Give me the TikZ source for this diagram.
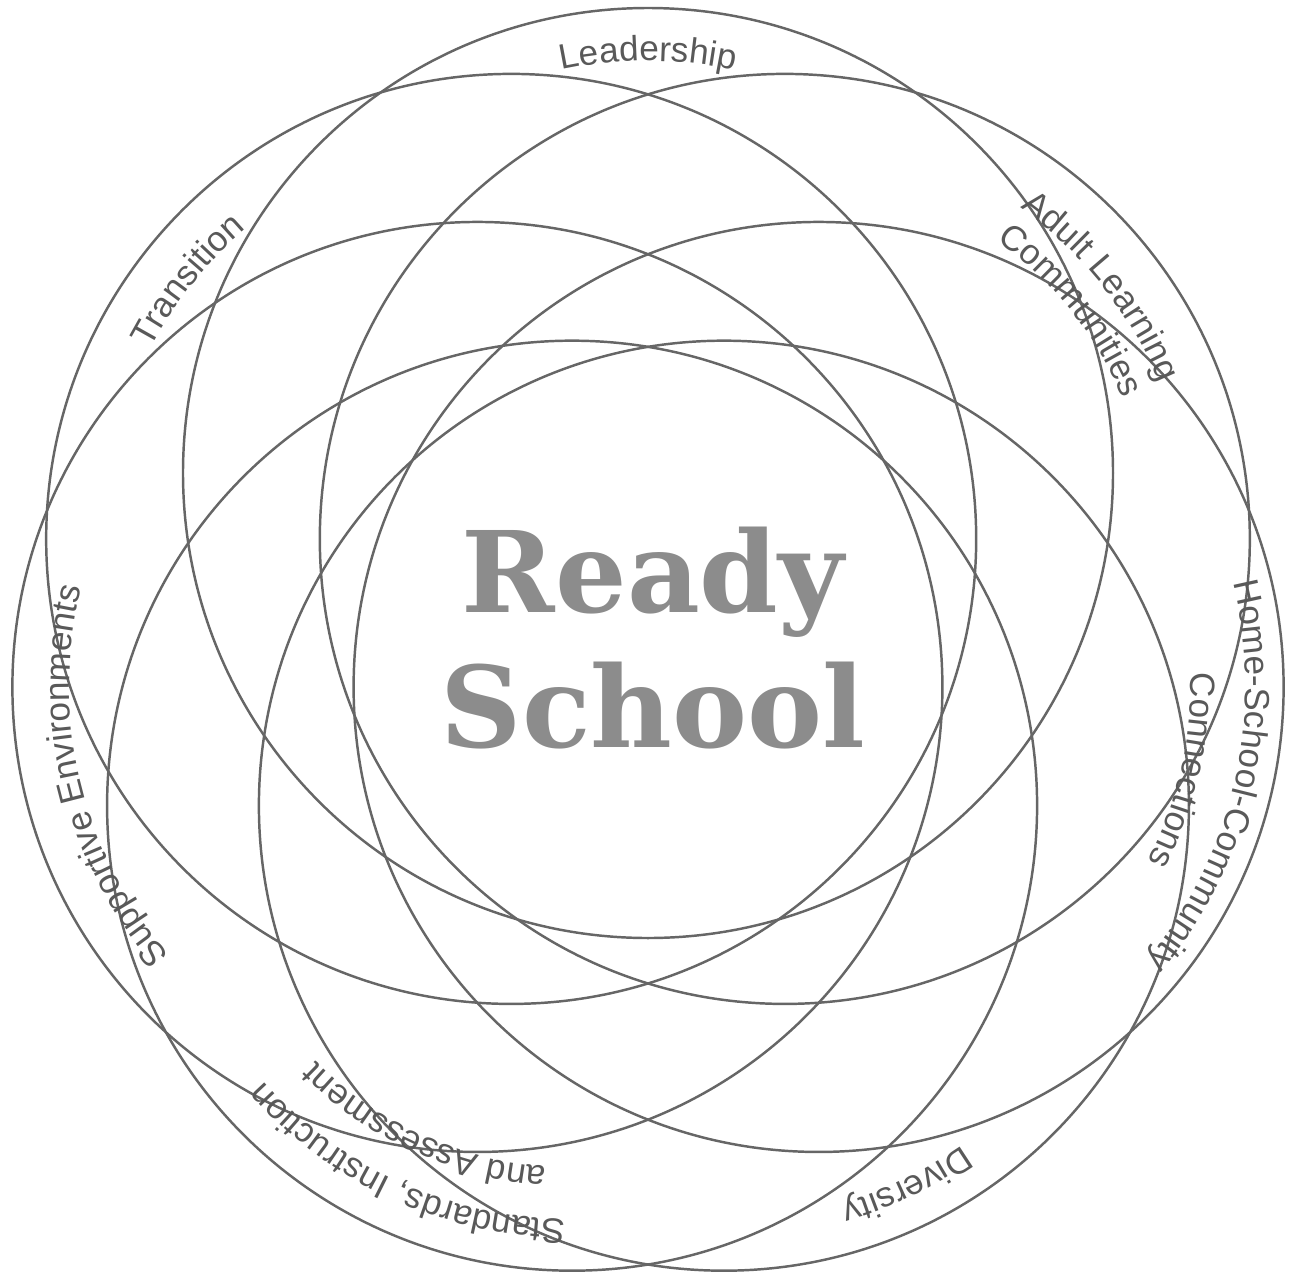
\documentclass[tikz,border=0pt]{standalone}
\usepackage{fontspec}
\setmainfont{Liberation Sans}
\newfontfamily\slabfont{DejaVu Serif}
\usetikzlibrary{calc,decorations.text}

\begin{document}
\begin{tikzpicture}[x=0.01cm, y=0.01cm]
  \tikzstyle{ring}=[draw=black!60,line width=0.7pt]
  \tikzstyle{lbl}=[decorate,decoration={text along path,text align=center,text color=black!65}]
  \tikzstyle{title}=[font=\slabfont\bfseries\fontsize{32}{38}\selectfont,text=black!45,anchor=base,inner sep=0pt]
  \useasboundingbox (-648,-630) rectangle (647,648);
  % centres of the seven rings
  \coordinate (lead) at (90:175);
  \coordinate (adult) at (38.57:175);
  \coordinate (home) at (-12.86:175);
  \coordinate (div) at (-64.29:175);
  \coordinate (std) at (-115.71:175);
  \coordinate (supp) at (-167.14:175);
  \coordinate (trans) at (141.43:175);
  \draw[ring] (lead) circle[radius=465];
  \draw[ring] (adult) circle[radius=465];
  \draw[ring] (home) circle[radius=465];
  \draw[ring] (div) circle[radius=465];
  \draw[ring] (std) circle[radius=465];
  \draw[ring] (supp) circle[radius=465];
  \draw[ring] (trans) circle[radius=465];
  % labels, clockwise along each ring
  \path[lbl,decoration={text={Leadership}}] ($(lead)+(135:412)$) arc[start angle=135,end angle=45,radius=412];
  \path[lbl,decoration={text={Adult Learning}}] ($(adult)+(83.6:406)$) arc[start angle=83.6,end angle=-6.4,radius=406];
  \path[lbl,decoration={text={Communities}}] ($(adult)+(83.6:366)$) arc[start angle=83.6,end angle=-6.4,radius=366];
  \path[lbl,decoration={text={Home-School-Community}}] ($(home)+(32.1:427)$) arc[start angle=32.1,end angle=-57.9,radius=427];
  \path[lbl,decoration={text={Connections}}] ($(home)+(32.1:372)$) arc[start angle=32.1,end angle=-57.9,radius=372];
  \path[lbl,decoration={text={Diversity}}] ($(div)+(-19.3:415)$) arc[start angle=-19.3,end angle=-109.3,radius=415];
  \path[lbl,decoration={text={Standards, Instruction}}] ($(std)+(-69.6:414)$) arc[start angle=-69.6,end angle=-159.6,radius=414];
  \path[lbl,decoration={text={and Assessment}}] ($(std)+(-69.6:362)$) arc[start angle=-69.6,end angle=-159.6,radius=362];
  \path[lbl,decoration={text={Supportive Environments}}] ($(supp)+(238.5:408)$) arc[start angle=238.5,end angle=148.5,radius=408];
  \path[lbl,decoration={text={Transition}}] ($(trans)+(186.4:408)$) arc[start angle=186.4,end angle=96.4,radius=408];
  \node[title] (ready) at (5,36) {Ready};
  \node[title] (school) at (5,-99) {School};
\end{tikzpicture}
\end{document}
